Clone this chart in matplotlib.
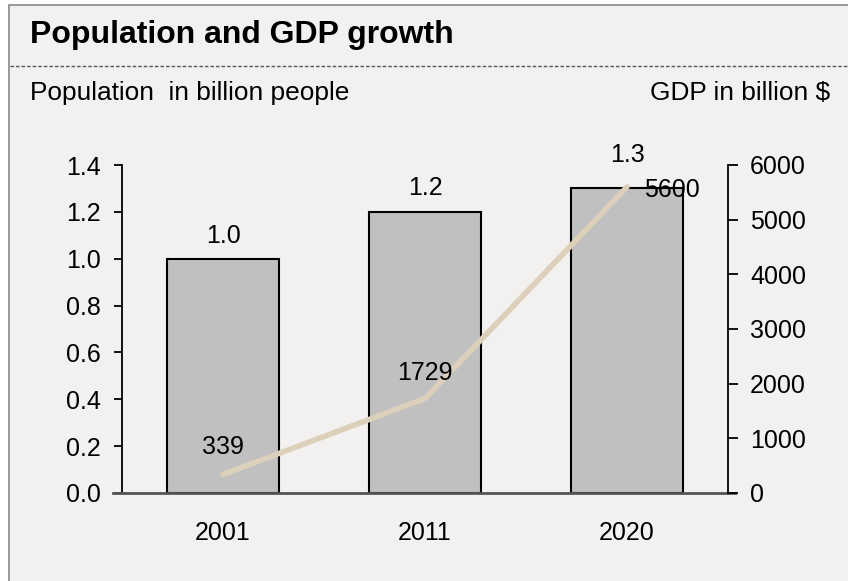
import matplotlib
matplotlib.use('Agg')
import matplotlib.pyplot as plt
from matplotlib.patches import Rectangle
from matplotlib.lines import Line2D

plt.rcParams['font.family'] = ['Liberation Sans', 'DejaVu Sans']

# data
years = ['2001', '2011', '2020']
population = [1.0, 1.2, 1.3]          # billion people
gdp = [339, 1729, 5600]               # billion $

W, H = 848, 581
fig = plt.figure(figsize=(W / 100, H / 100), dpi=100, facecolor='white')

# panel background with grey frame
fig.patches.append(Rectangle((9 / W, -0.01), 1.0, 1 - 5 / H + 0.01, transform=fig.transFigure,
                             facecolor='#f2f1ef', edgecolor='#888888', linewidth=1.2, zorder=-5))
# dotted separator under title
fig.lines.append(Line2D([10 / W, 1.0], [1 - 66 / H] * 2, transform=fig.transFigure,
                        color='#555555', linewidth=1.0, linestyle=(0, (2.5, 1.5)), zorder=-4))

fig.text(30 / W, 1 - 35 / H, 'Population and GDP growth', fontsize=23, fontweight='bold',
         ha='left', va='center')
fig.text(30 / W, 1 - 93 / H, 'Population  in billion people', fontsize=18.9, ha='left', va='center')
fig.text(830 / W, 1 - 93 / H, 'GDP in billion $', fontsize=18.9, ha='right', va='center')

ax = fig.add_axes([122 / W, 88 / H, 606 / W, 328 / H])
ax.set_facecolor('none')
x = range(len(years))
bars = ax.bar(x, population, width=0.55, color='#c0c0c0', edgecolor='black', linewidth=1.5, zorder=2)
ax.set_xlim(-0.5, 2.5)
ax.set_ylim(0, 1.4)
ax.set_yticks([0.0, 0.2, 0.4, 0.6, 0.8, 1.0, 1.2, 1.4])
ax.set_yticklabels([f'{v:.1f}' for v in ax.get_yticks()])
ax.set_xticks(list(x))
ax.set_xticklabels(years)
ax.tick_params(axis='x', length=0, pad=20, labelsize=18)
ax.tick_params(axis='y', direction='out', length=6, width=1.3, pad=9, labelsize=18)
for s in ['top', 'right']:
    ax.spines[s].set_visible(False)
ax.spines['left'].set_linewidth(1.3)
ax.spines['bottom'].set_visible(False)
ax.plot([-0.015, 1.012], [0, 0], transform=ax.transAxes, color='#555555', linewidth=2,
        clip_on=False, zorder=3)

bar_offsets = [16, 17, 24]
for xi, v, off in zip(x, population, bar_offsets):
    ax.annotate(f'{v:.1f}', (xi, v), xytext=(0, off), textcoords='offset points',
                ha='center', va='center', fontsize=18)

ax2 = ax.twinx()
ax2.set_ylim(0, 6000)
ax2.set_yticks([0, 1000, 2000, 3000, 4000, 5000, 6000])
ax2.plot(list(x), gdp, color='#dcd0bb', linewidth=4, solid_capstyle='round', zorder=4)
ax2.tick_params(axis='y', direction='out', length=7, width=1.3, pad=9, labelsize=18)
for s in ['top', 'left', 'bottom']:
    ax2.spines[s].set_visible(False)
ax2.spines['right'].set_linewidth(1.3)

line_offsets = [(0, 20), (0, 18), (32, -2)]
for xi, v, off in zip(x, gdp, line_offsets):
    ax2.annotate(str(v), (xi, v), xytext=off, textcoords='offset points',
                 ha='center', va='center', fontsize=18, zorder=5)

fig.savefig('out.png', dpi=100, facecolor='white')
